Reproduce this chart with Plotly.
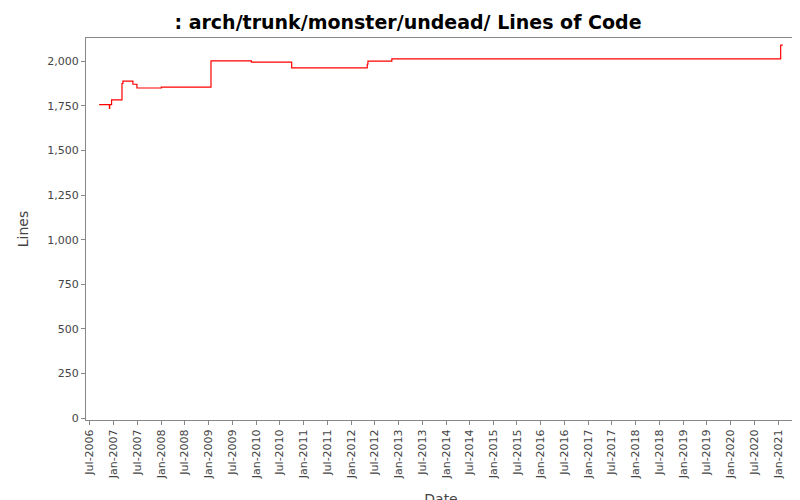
import plotly.graph_objects as go

# Step changes in lines of code
dates = [
    '2006-09-10', '2006-11-28', '2006-11-30', '2006-12-15', '2007-03-05',
    '2007-03-12', '2007-05-28', '2007-06-28', '2008-01-02', '2009-01-18',
    '2009-11-25', '2010-10-01', '2012-05-05', '2012-05-10', '2012-11-10',
    '2021-01-20', '2021-02-05',
]
lines = [
    1757, 1735, 1757, 1783, 1875,
    1888, 1871, 1850, 1855, 2002,
    1995, 1963, 1983, 2000, 2013,
    2090, 2090,
]

tickvals = []
ticktext = []
for year in range(2006, 2022):
    for month, name in ((1, 'Jan'), (7, 'Jul')):
        if (year == 2006 and month == 1) or (year == 2021 and month == 7):
            continue
        tickvals.append(f'{year}-{month:02d}-01')
        ticktext.append(f'{name}-{year}')

fig = go.Figure()
fig.add_trace(go.Scatter(
    x=dates, y=lines, mode='lines', line_shape='hv',
    line=dict(color='#ff0000', width=1.2), showlegend=False,
))

axis_style = dict(
    showline=True, linecolor='#888888', mirror=True, showgrid=False,
    ticks='outside', tickcolor='#888888', ticklen=4, zeroline=False,
    tickfont=dict(size=11, color='#444444'), automargin=False,
)
fig.update_layout(
    title=dict(text='<b>: arch/trunk/monster/undead/ Lines of Code</b>', x=0.5, xanchor='center',
               y=0.972, yanchor='middle', yref='container',
               font=dict(size=19, color='#000000', family='DejaVu Sans')),
    font=dict(family='DejaVu Sans'),
    paper_bgcolor='white', plot_bgcolor='white',
    width=800, height=500,
    margin=dict(l=78, r=12, t=30, b=88),
    xaxis=dict(range=['2006-06-01', '2021-05-18'], tickvals=tickvals, ticktext=ticktext,
               tickangle=-90, title=dict(text='Date', font=dict(size=14, color='#444444'), standoff=10),
               **axis_style),
    yaxis=dict(range=[-10, 2130], tickvals=list(range(0, 2001, 250)), tickformat=',',
               title=dict(text='Lines', font=dict(size=14, color='#444444')),
               **axis_style),
)
fig.layout.xaxis.title.standoff = None
fig.write_html('out.html')
